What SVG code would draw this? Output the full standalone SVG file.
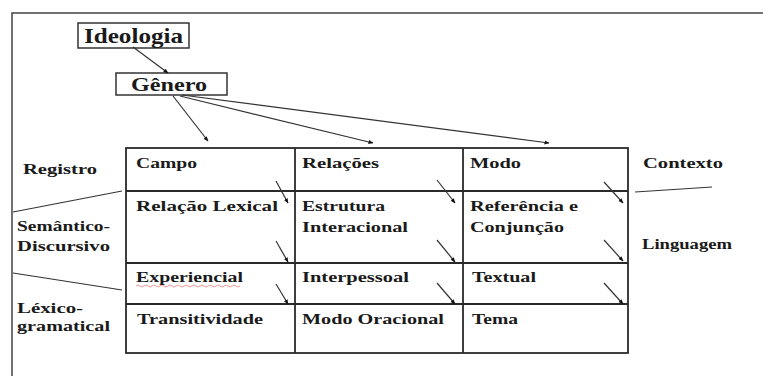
<svg xmlns="http://www.w3.org/2000/svg" width="763" height="376" viewBox="0 0 763 376">
<defs>
<marker id="ah" viewBox="0 0 10 10" refX="9" refY="5" markerWidth="5" markerHeight="5" orient="auto" markerUnits="userSpaceOnUse">
<path d="M0,1 L10,5 L0,9 z" fill="#111"/>
</marker>
<style>
.t{font-family:"Liberation Serif","Times New Roman",serif;font-weight:bold;font-size:15px;fill:#1a1a1a}
.box{fill:#fff;stroke:#333;stroke-width:1.5}
.grid{stroke:#2a2a2a;stroke-width:1.8;fill:none}
.con{stroke:#333;stroke-width:1.2;fill:none}
.arr{stroke:#333;stroke-width:1.2;fill:none;marker-end:url(#ah)}
</style>
</defs>
<rect width="763" height="376" fill="#fff"/>
<!-- outer frame -->
<path d="M12,376 L12,13 L763,13" stroke="#444" stroke-width="1.5" fill="none"/>

<g id="ideologia">
<rect class="box" x="78" y="23" width="111" height="25"/>
<text class="t" x="84" y="43" style="font-size:21px" textLength="99" lengthAdjust="spacingAndGlyphs">Ideologia</text>
</g>
<g id="genero">
<rect class="box" x="116" y="73" width="111" height="22"/>
<text class="t" x="131" y="91" style="font-size:18px" textLength="76" lengthAdjust="spacingAndGlyphs">Gênero</text>
</g>

<g id="tabela">
<rect class="grid" x="126" y="148" width="502" height="205"/>
<line class="grid" x1="295" y1="148" x2="295" y2="353"/>
<line class="grid" x1="463" y1="148" x2="463" y2="353"/>
<line class="grid" x1="126" y1="191" x2="628" y2="191"/>
<line class="grid" x1="126" y1="263" x2="628" y2="263"/>
<line class="grid" x1="126" y1="304" x2="628" y2="304"/>
</g>

<g id="campo"><text class="t" x="136" y="168" textLength="61" lengthAdjust="spacingAndGlyphs">Campo</text></g>
<g id="relacoes"><text class="t" x="302" y="168" textLength="77" lengthAdjust="spacingAndGlyphs">Relações</text></g>
<g id="modo"><text class="t" x="470" y="168" textLength="51" lengthAdjust="spacingAndGlyphs">Modo</text></g>

<g id="relacao-lexical"><text class="t" x="136" y="211" textLength="142" lengthAdjust="spacingAndGlyphs">Relação Lexical</text></g>
<g id="estrutura-interacional">
<text class="t" x="302" y="211" textLength="83" lengthAdjust="spacingAndGlyphs">Estrutura</text>
<text class="t" x="302" y="232" textLength="106" lengthAdjust="spacingAndGlyphs">Interacional</text>
</g>
<g id="referencia-conjuncao">
<text class="t" x="470" y="211" textLength="108" lengthAdjust="spacingAndGlyphs">Referência e</text>
<text class="t" x="470" y="232" textLength="94" lengthAdjust="spacingAndGlyphs">Conjunção</text>
</g>

<g id="experiencial">
<text class="t" x="136" y="282" textLength="107" lengthAdjust="spacingAndGlyphs">Experiencial</text>
<path d="M136,286 q2,-2 4,0 t4,0 t4,0 t4,0 t4,0 t4,0 t4,0 t4,0 t4,0 t4,0 t4,0 t4,0 t4,0 t4,0 t4,0 t4,0 t4,0 t4,0 t4,0 t4,0 t4,0 t4,0 t4,0 t4,0 t4,0 t4,0" stroke="#d44" stroke-width="0.8" fill="none" opacity="0.7"/>
</g>
<g id="interpessoal"><text class="t" x="302" y="282" textLength="107" lengthAdjust="spacingAndGlyphs">Interpessoal</text></g>
<g id="textual"><text class="t" x="472" y="282" textLength="64" lengthAdjust="spacingAndGlyphs">Textual</text></g>

<g id="transitividade"><text class="t" x="137" y="324" textLength="126" lengthAdjust="spacingAndGlyphs">Transitividade</text></g>
<g id="modo-oracional"><text class="t" x="302" y="324" textLength="142" lengthAdjust="spacingAndGlyphs">Modo Oracional</text></g>
<g id="tema"><text class="t" x="472" y="324" textLength="46" lengthAdjust="spacingAndGlyphs">Tema</text></g>

<g id="registro"><text class="t" x="23" y="174" textLength="74" lengthAdjust="spacingAndGlyphs">Registro</text></g>
<g id="semantico-discursivo">
<text class="t" x="17" y="231" textLength="93" lengthAdjust="spacingAndGlyphs">Semântico-</text>
<text class="t" x="17" y="251" textLength="93" lengthAdjust="spacingAndGlyphs">Discursivo</text>
</g>
<g id="lexico-gramatical">
<text class="t" x="17" y="313" textLength="66" lengthAdjust="spacingAndGlyphs">Léxico-</text>
<text class="t" x="17" y="331" textLength="93" lengthAdjust="spacingAndGlyphs">gramatical</text>
</g>
<g id="contexto"><text class="t" x="643" y="168" textLength="80" lengthAdjust="spacingAndGlyphs">Contexto</text></g>
<g id="linguagem"><text class="t" x="642" y="249" textLength="90" lengthAdjust="spacingAndGlyphs">Linguagem</text></g>

<g id="conectores">
<line class="arr" x1="133" y1="47" x2="168" y2="73"/>
<line class="arr" x1="173" y1="96" x2="208" y2="141"/>
<line class="arr" x1="180" y1="96" x2="373" y2="143"/>
<line class="arr" x1="182" y1="95" x2="549" y2="143"/>
<line class="con" x1="13" y1="212" x2="122" y2="191"/>
<line class="con" x1="13" y1="273" x2="122" y2="290"/>
<line class="con" x1="635" y1="192" x2="712" y2="187"/>
<line class="arr" x1="276" y1="181" x2="288" y2="203"/>
<line class="arr" x1="276" y1="241" x2="288" y2="262"/>
<line class="arr" x1="276" y1="284" x2="288" y2="304"/>
<line class="arr" x1="437" y1="180" x2="455" y2="203"/>
<line class="arr" x1="437" y1="240" x2="455" y2="262"/>
<line class="arr" x1="437" y1="283" x2="455" y2="304"/>
<line class="arr" x1="604" y1="182" x2="623" y2="203"/>
<line class="arr" x1="604" y1="240" x2="623" y2="261"/>
<line class="arr" x1="604" y1="283" x2="623" y2="304"/>
</g>
</svg>
